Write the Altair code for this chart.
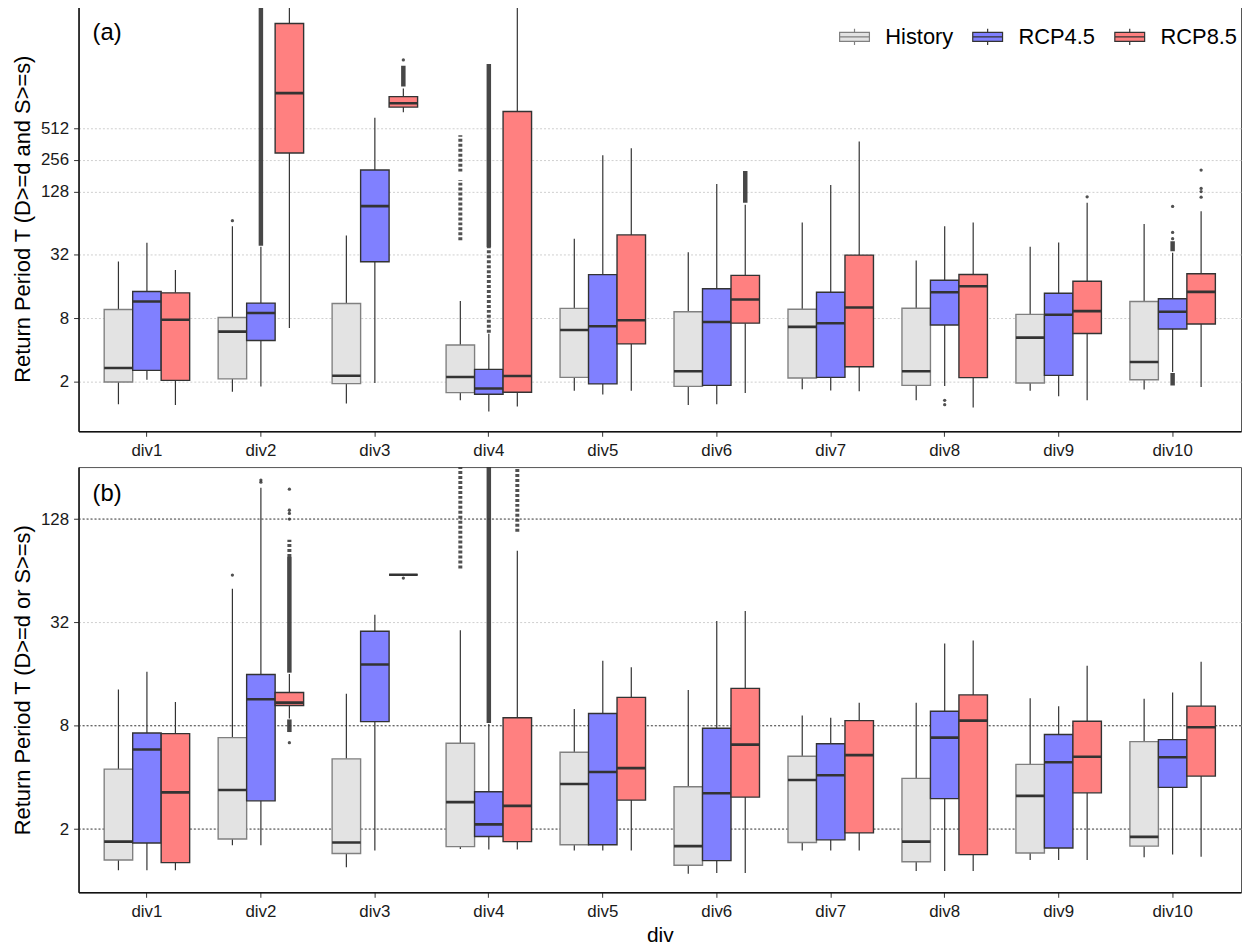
import altair as alt
import pandas as pd

FONT = "Liberation Sans"

DIVS = ["div1", "div2", "div3", "div4", "div5", "div6", "div7", "div8", "div9", "div10"]
SCENARIOS = ["History", "RCP4.5", "RCP8.5"]
FILLS = ["#e3e3e3", "#8080ff", "#ff8080"]
EDGES = ["#808080", "#333333", "#333333"]

# ---------------- panel (a): D>=d and S>=s  (order: div1 H/4.5/8.5, div2 ...)
a_low = [1.21, 2.07, 1.19, 1.59, 1.79, 6.43, 1.23, 1.93, 729, 1.32, 1.03, 1.15,
         1.63, 1.495, 1.63, 1.19, 1.21, 1.55, 1.68, 1.64, 1.61, 1.32, 1.81, 1.13,
         1.63, 1.44, 1.32, 1.67, 2.45, 1.77]
a_q1 = [1.97, 2.54, 2.04, 2.11, 4.89, 298, 1.90, 27.5, 814, 1.56, 1.505, 1.575,
        2.18, 1.89, 4.54, 1.79, 1.83, 7.16, 2.15, 2.18, 2.75, 1.83, 6.87, 2.17,
        1.93, 2.28, 5.7, 2.07, 6.3, 7.02]
a_med = [2.68, 11.5, 7.71, 5.94, 8.94, 1105, 2.26, 93, 885, 2.2, 1.71, 2.25,
         6.15, 6.68, 7.62, 2.49, 7.34, 12.0, 6.59, 7.13, 10.1, 2.49, 14.1, 16.07,
         5.21, 8.6, 9.32, 3.05, 9.19, 14.2]
a_q3 = [9.65, 14.3, 13.9, 8.1, 11.1, 5080, 11.0, 205, 1024, 4.44, 2.6, 739,
        9.89, 20.7, 49.5, 9.19, 15.2, 20.4, 9.71, 14.1, 31.8, 9.92, 18.3, 20.8,
        8.68, 13.8, 17.9, 11.5, 12.2, 21.1]
a_high = [27.7, 41.6, 22.9, 59.7, 38.1, 10000, 48.8, 646, 1222, 11.6, 5.66, 10000,
          45.6, 284, 331, 33.8, 151, 95.7, 65.1, 148, 383, 28.2, 59.7, 65.1,
          38.1, 41.9, 100, 62.7, 33.4, 83]

a_pt_div = ["div2", "div3", "div8", "div8", "div9", "div10", "div10", "div10",
            "div10", "div10", "div10", "div10"]
a_pt_scen = ["History", "RCP8.5", "RCP4.5", "RCP4.5", "RCP8.5", "RCP4.5", "RCP4.5",
             "RCP4.5", "RCP8.5", "RCP8.5", "RCP8.5", "RCP8.5"]
a_pt_val = [67.6, 2290, 1.32, 1.2, 114, 45.6, 52.3, 92.4, 113, 128, 137, 205]

a_dense_div = ["div2", "div3", "div4", "div6", "div10", "div10"]
a_dense_scen = ["RCP4.5", "RCP8.5", "RCP4.5", "RCP8.5", "RCP4.5", "RCP4.5"]
a_dense_lo = [39, 1280, 38, 100, 34.5, 1.83]
a_dense_hi = [10000, 2020, 2090, 201, 43, 2.4]

a_sparse_div = ["div4", "div4", "div4"]
a_sparse_scen = ["History", "History", "RCP4.5"]
a_sparse_lo = [44, 198, 5.8]
a_sparse_hi = [165, 440, 38]

# ---------------- panel (b): D>=d or S>=s
b_low = [1.15, 1.15, 1.15, 1.61, 1.61, 8.8, 1.2, 1.5, 60.6, 1.53, 1.52, 1.52,
         1.5, 1.5, 1.5, 1.1, 1.11, 1.11, 1.5, 1.5, 1.5, 1.14, 1.14, 1.14,
         1.32, 1.32, 1.32, 1.37, 1.42, 1.38]
b_q1 = [1.32, 1.66, 1.275, 1.75, 2.92, 10.5, 1.44, 8.45, 60.6, 1.58, 1.81, 1.69,
        1.62, 1.62, 2.95, 1.23, 1.31, 3.07, 1.67, 1.73, 1.9, 1.29, 3.01, 1.42,
        1.45, 1.55, 3.25, 1.59, 3.5, 4.07]
b_med = [1.69, 5.82, 3.27, 3.38, 11.4, 10.9, 1.67, 18.2, 60.6, 2.87, 2.13, 2.73,
         3.66, 4.3, 4.53, 1.59, 3.23, 6.21, 3.86, 4.12, 5.39, 1.69, 6.82, 8.57,
         3.12, 4.9, 5.28, 1.8, 5.24, 7.84]
b_q3 = [4.47, 7.26, 7.19, 6.82, 15.9, 12.5, 5.13, 28.4, 60.6, 6.32, 3.3, 8.9,
        5.6, 9.43, 11.7, 3.53, 7.73, 13.2, 5.31, 6.28, 8.57, 3.95, 9.71, 12.1,
        4.76, 7.11, 8.5, 6.46, 6.64, 10.4]
b_high = [13.0, 16.5, 11.0, 50.2, 195, 16.0, 12.3, 35.5, 60.6, 28.8, 8.2, 83.6,
          10.0, 19.1, 17.5, 12.9, 32.6, 37.3, 9.19, 8.9, 10.9, 10.9, 24.1, 25.1,
          11.55, 10.4, 17.9, 11.5, 12.5, 18.9]

b_pt_div = ["div2", "div2", "div2", "div2", "div2", "div2", "div2", "div2", "div3"]
b_pt_scen = ["History", "RCP4.5", "RCP4.5", "RCP8.5", "RCP8.5", "RCP8.5", "RCP8.5",
             "RCP8.5", "RCP8.5"]
b_pt_val = [60.4, 210, 216, 128, 138, 144, 191, 6.37, 58]

b_dense_div = ["div2", "div2", "div4"]
b_dense_scen = ["RCP8.5", "RCP8.5", "RCP4.5"]
b_dense_lo = [16.3, 7.35, 8.3]
b_dense_hi = [77, 8.7, 300]

b_sparse_div = ["div2", "div4", "div4"]
b_sparse_scen = ["RCP8.5", "History", "RCP8.5"]
b_sparse_lo = [77, 66, 108]
b_sparse_hi = [97, 300, 300]

b_hlines = [2, 8, 128]


def box_table(low, q1, med, q3, high):
    return pd.DataFrame({
        "div": [d for d in DIVS for _ in SCENARIOS],
        "scen": SCENARIOS * len(DIVS),
        "low": low, "q1": q1, "med": med, "q3": q3, "high": high,
    })


LEGEND_PATH = "M-1,-0.3H1V0.3H-1Z M-1,0H1 M0,-0.3V-0.55 M0,0.3V0.55"


def panel(low, q1, med, q3, high, pdiv, pscen, pval, ddiv, dscen, dlo, dhi,
          sdiv, sscen, slo, shi, domain, ticks, ytitle, xtitle, label,
          show_legend, hlines=None):
    boxes = box_table(low, q1, med, q3, high)
    pts = pd.DataFrame({"div": pdiv, "scen": pscen, "val": pval})
    dense = pd.DataFrame({"div": ddiv, "scen": dscen, "lo": dlo, "hi": dhi})
    sparse = pd.DataFrame({"div": sdiv, "scen": sscen, "lo": slo, "hi": shi})

    xaxis = alt.Axis(title=xtitle, labelAngle=0, labelFontSize=17, labelColor="#1a1a1a",
                     tickSize=5, labelPadding=6, grid=False, titleFontSize=21,
                     titleFontWeight="normal", titleColor="black", titlePadding=6)
    x = alt.X("div:N", sort=DIVS,
              scale=alt.Scale(domain=DIVS, paddingInner=0.25, paddingOuter=0.225),
              axis=xaxis)
    xo = alt.XOffset("scen:N", sort=SCENARIOS,
                     scale=alt.Scale(domain=SCENARIOS, paddingInner=0, paddingOuter=0))
    ysc = alt.Scale(type="log", base=2, domain=domain, nice=False)
    yaxis = alt.Axis(title=ytitle, values=ticks, format="d", labelFontSize=17,
                     labelColor="#1a1a1a", tickSize=5, labelPadding=5, grid=True,
                     gridDash=[2, 2], gridColor="#cfcfcf", gridWidth=1,
                     titleFontSize=22, titleFontWeight="normal", titleColor="black",
                     titlePadding=6)

    def Y(f):
        return alt.Y(f, scale=ysc, axis=yaxis)

    layers = []
    if hlines is not None:
        layers.append(
            alt.Chart(pd.DataFrame({"h": hlines})).mark_rule(
                color="#333333", strokeDash=[2, 2], strokeWidth=0.9
            ).encode(y=Y("h:Q"))
        )
    base = alt.Chart(boxes)
    layers.append(base.mark_rule(color="#333333", strokeWidth=1.2, clip=True).encode(
        x=x, xOffset=xo, y=Y("low:Q"), y2="q1:Q"))
    layers.append(base.mark_rule(color="#333333", strokeWidth=1.2, clip=True).encode(
        x=x, xOffset=xo, y=Y("q3:Q"), y2="high:Q"))
    layers.append(alt.Chart(dense).mark_rule(color="#333333", strokeWidth=4.5,
                                             opacity=0.9, clip=True).encode(
        x=x, xOffset=xo, y=Y("lo:Q"), y2="hi:Q"))
    layers.append(alt.Chart(sparse).mark_rule(color="#333333", strokeWidth=4,
                                              strokeDash=[3, 2], opacity=0.85,
                                              clip=True).encode(
        x=x, xOffset=xo, y=Y("lo:Q"), y2="hi:Q"))
    layers.append(alt.Chart(pts).mark_circle(color="#333333", size=11, opacity=0.85,
                                             clip=True).encode(
        x=x, xOffset=xo, y=Y("val:Q")))

    if show_legend:
        legend = alt.Legend(title=None, orient="none", direction="horizontal",
                            legendX=765, legendY=15, symbolType=LEGEND_PATH,
                            symbolSize=900, symbolStrokeColor="#444444",
                            symbolStrokeWidth=1.2, labelFontSize=22,
                            labelColor="black", labelOffset=15, columnPadding=16,
                            padding=0, labelFont=FONT)
    else:
        legend = None
    layers.append(base.mark_bar(strokeWidth=1.4, clip=True).encode(
        x=x, xOffset=xo, y=Y("q1:Q"), y2="q3:Q",
        color=alt.Color("scen:N", scale=alt.Scale(domain=SCENARIOS, range=FILLS),
                        legend=legend),
        stroke=alt.Stroke("scen:N", scale=alt.Scale(domain=SCENARIOS, range=EDGES),
                          legend=None),
        fillOpacity=alt.value(1)))
    layers.append(base.mark_bar(fillOpacity=0, stroke="#333333", strokeWidth=2.6,
                                clip=True).encode(
        x=x, xOffset=xo, y=Y("med:Q"), y2="med:Q"))
    layers.append(alt.Chart(pd.DataFrame({"lab": [label]})).mark_text(
        align="left", baseline="middle", fontSize=24, font=FONT, color="black"
    ).encode(x=alt.value(14), y=alt.value(27), text="lab:N"))
    return alt.layer(*layers)


pa = panel(a_low, a_q1, a_med, a_q3, a_high, a_pt_div, a_pt_scen, a_pt_val,
           a_dense_div, a_dense_scen, a_dense_lo, a_dense_hi,
           a_sparse_div, a_sparse_scen, a_sparse_lo, a_sparse_hi,
           [0.669, 7450], [2, 8, 32, 128, 256, 512],
           "Return Period T (D>=d and S>=s)", None, "(a)", True
           ).properties(width=1170, height=428)

pb = panel(b_low, b_q1, b_med, b_q3, b_high, b_pt_div, b_pt_scen, b_pt_val,
           b_dense_div, b_dense_scen, b_dense_lo, b_dense_hi,
           b_sparse_div, b_sparse_scen, b_sparse_lo, b_sparse_hi,
           [0.856, 257], [2, 8, 32, 128],
           "Return Period T (D>=d or S>=s)", "div", "(b)", False, hlines=b_hlines
           ).properties(width=1170, height=428)

chart = alt.vconcat(pa, pb, spacing=7).resolve_scale(
    color="independent", stroke="independent"
).properties(
    padding={"left": 3, "top": -6, "right": 0, "bottom": 0}
).configure(font=FONT).configure_view(
    stroke="#555555", strokeWidth=1
).configure_axis(
    domainColor="#111111", domainWidth=1.5, tickColor="#333333", tickWidth=1,
    labelFont=FONT, titleFont=FONT
)

chart.save("out.html", embed_options={"renderer": "svg", "actions": False})
